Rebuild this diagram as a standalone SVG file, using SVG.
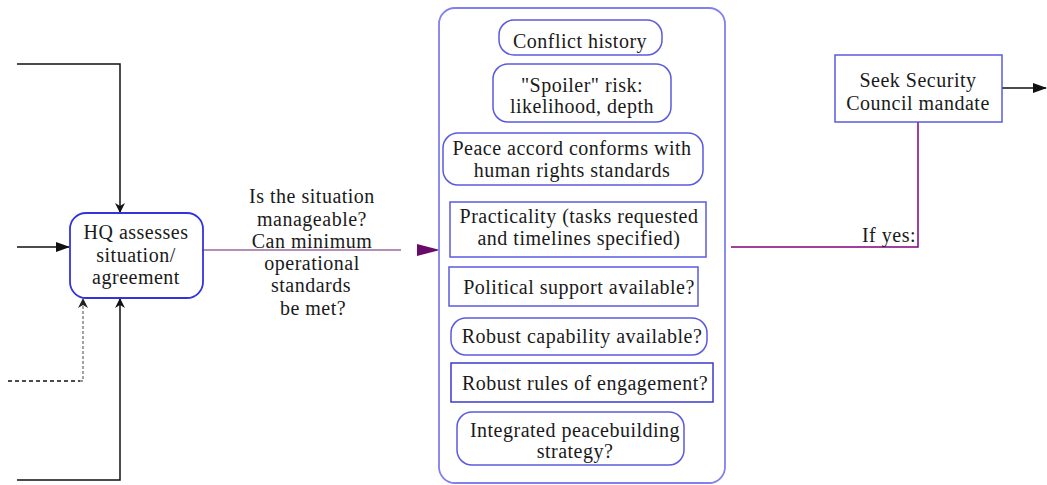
<svg xmlns="http://www.w3.org/2000/svg" width="1047" height="485" viewBox="0 0 1047 485">
<style>
text{font-family:"Liberation Serif","Times New Roman",serif;font-size:20px;letter-spacing:0.5px;fill:#1a1a1a;text-anchor:middle}
.box{fill:#fff;stroke:#5a5ae0;stroke-width:1.5}
.hq{fill:#fff;stroke:#3333dd;stroke-width:1.8}
.cont{fill:none;stroke:#8080ee;stroke-width:1.8}
.blk{fill:none;stroke:#111;stroke-width:1.5}
</style>
<defs>
<marker id="ah" markerWidth="10" markerHeight="10" refX="9" refY="5" orient="auto" markerUnits="userSpaceOnUse" viewBox="0 0 10 10">
<path d="M0,0 L10,5 L0,10 L3,5 Z" fill="#111"/>
</marker>
<marker id="ah2" markerWidth="14" markerHeight="12" refX="13" refY="6" orient="auto" markerUnits="userSpaceOnUse" viewBox="0 0 14 12">
<path d="M0,1 L14,6 L0,11 Z" fill="#111"/>
</marker>
</defs>
<g id="connectors">
<polyline class="blk" points="17,64 120,64 120,212" marker-end="url(#ah)"/>
<line class="blk" x1="17" y1="247" x2="69" y2="247" marker-end="url(#ah2)"/>
<polyline fill="none" stroke="#111" stroke-width="1.3" stroke-dasharray="4,3" points="8,381 80,381"/>
<polyline fill="none" stroke="#999" stroke-width="1.8" stroke-dasharray="3,2" points="80,381 83,381 83,302"/>
<path d="M78,308 L83,298 L88,308 L83,305 Z" fill="#222"/>
<polyline class="blk" points="17,480 120,480 120,299" marker-end="url(#ah)"/>
<line x1="203" y1="250" x2="401" y2="250" stroke="#9a6a9a" stroke-width="1.5"/>
<path d="M417,244 L440,250 L417,256 Z" fill="#6a0a6a"/>
<polyline fill="none" stroke="#800080" stroke-width="1.5" points="731,247 918,247 918,122"/>
<line class="blk" x1="1002" y1="88" x2="1046" y2="88" marker-end="url(#ah2)"/>
<text x="312" y="203">Is the situation</text>
<text x="312" y="226">manageable?</text>
<text x="312" y="248">Can minimum</text>
<text x="312" y="270">operational</text>
<text x="311" y="292">standards</text>
<text x="313" y="315">be met?</text>
<text x="916" y="242" style="text-anchor:end">If yes:</text>
</g>
<g id="hq">
<rect class="hq" x="70" y="213" width="133" height="85" rx="16"/>
<text x="136" y="239">HQ assesses</text>
<text x="136" y="262">situation/</text>
<text x="136" y="284">agreement</text>
</g>
<g id="criteria">
<rect class="cont" x="439" y="8" width="286" height="475" rx="16"/>
</g>
<g id="conflict">
<rect class="box" x="499" y="20" width="163" height="35" rx="15"/>
<text x="580" y="48">Conflict history</text>
</g>
<g id="spoiler">
<rect class="box" x="493" y="64" width="178" height="58" rx="15"/>
<text x="582" y="92">"Spoiler" risk:</text>
<text x="582" y="113">likelihood, depth</text>
</g>
<g id="peace">
<rect class="box" x="443" y="133" width="260" height="52" rx="15"/>
<text x="572" y="155">Peace accord conforms with</text>
<text x="572" y="177">human rights standards</text>
</g>
<g id="practicality">
<rect class="box" x="450" y="202" width="256" height="55"/>
<text x="579" y="223">Practicality (tasks requested</text>
<text x="579" y="245">and timelines specified)</text>
</g>
<g id="political">
<rect class="box" x="449" y="267" width="249" height="39"/>
<text x="579" y="294">Political support available?</text>
</g>
<g id="capability">
<rect class="box" x="451" y="318" width="256" height="37" rx="15"/>
<text x="582" y="343">Robust capability available?</text>
</g>
<g id="rules">
<rect class="box" x="451" y="363" width="262" height="39" style="stroke:#3a3ad0"/>
<text x="585" y="390">Robust rules of engagement?</text>
</g>
<g id="integrated">
<rect class="box" x="457" y="412" width="227" height="53" rx="15"/>
<text x="575" y="437">Integrated peacebuilding</text>
<text x="575" y="458">strategy?</text>
</g>
<g id="seek">
<rect class="box" x="835" y="55" width="167" height="67"/>
<text x="918" y="87">Seek Security</text>
<text x="918" y="110">Council mandate</text>
</g>
</svg>
